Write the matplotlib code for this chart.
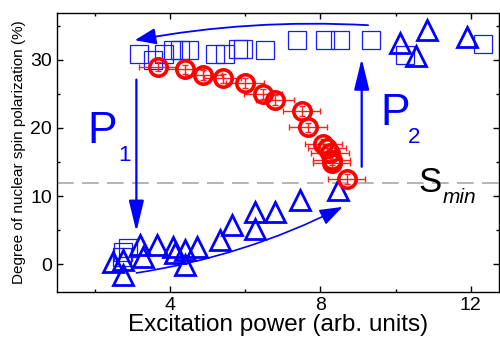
import matplotlib
matplotlib.use("Agg")
import matplotlib.pyplot as plt
from matplotlib.patches import FancyArrowPatch
from matplotlib.ticker import MultipleLocator, FixedLocator

plt.rcParams['font.family'] = ['Liberation Sans', 'DejaVu Sans']

# Red circles (with error bars)
red_x = [3.68, 4.40, 4.89, 5.40, 5.99, 6.48, 6.79, 7.50, 7.68, 8.08, 8.17, 8.26, 8.30, 8.30, 8.70]
red_y = [29.0, 28.6, 27.8, 27.3, 26.6, 25.0, 24.1, 22.5, 20.1, 17.7, 17.0, 16.3, 15.3, 14.8, 12.5]
red_xerr = [0.5] * 15
red_yerr = [0.7] * 15

# Blue open squares
sq_x = [3.17, 3.54, 3.85, 4.08, 4.27, 4.51, 5.20, 5.46, 5.82, 5.95, 6.53, 7.39, 8.12, 8.52, 9.36, 10.25, 12.33,
        2.72, 2.76, 2.88]
sq_y = [30.8, 30.05, 30.8, 31.5, 31.5, 31.5, 30.8, 30.8, 31.6, 31.6, 31.5, 32.9, 32.9, 32.9, 32.9, 30.7, 32.3,
        1.0, 1.8, 2.35]

# Blue open triangles
tri_x = [2.49, 2.76, 2.76, 3.20, 3.29, 3.65, 4.09, 4.13, 4.40, 4.40, 4.71, 5.33, 5.64, 6.26, 6.26, 6.79, 7.46, 8.48,
         10.12, 10.54, 10.84, 11.91]
tri_y = [0.3, 0.6, -1.6, 2.8, 1.1, 2.8, 2.5, 1.6, 2.1, -0.1, 2.5, 3.5, 5.7, 7.7, 5.2, 7.7, 9.4, 10.9,
         32.5, 30.6, 34.4, 33.4]

s_min = 11.9
x_ticks = [4, 8, 12]
y_ticks = [0, 10, 20, 30]

fig = plt.figure(figsize=(5.0, 3.41), dpi=100)
ax = fig.add_axes([0.114, 0.1437, 0.884, 0.8183])
ax.set_xlim(1.0, 12.75)
ax.set_ylim(-4.1, 36.9)

ax.axhline(s_min, color='#a8a8a8', lw=1.2, dashes=(10, 5), zorder=1)

ax.plot(sq_x, sq_y, ls='none', marker='s', ms=13, mfc='none', mec='#1a1aff', mew=0.9, zorder=2)
ax.plot(tri_x, tri_y, ls='none', marker='^', ms=14, mfc='none', mec='blue', mew=2.0, zorder=3)
ax.errorbar(red_x, red_y, xerr=red_xerr, yerr=red_yerr, fmt='none', ecolor='#ff2020', elinewidth=1.0,
            capsize=2.5, capthick=1.0, zorder=4)
ax.plot(red_x, red_y, ls='none', marker='o', ms=12.5, mfc='none', mec='red', mew=2.6, zorder=5)

# Arrows
def arrow(p0, p1, rad, lw, hl, hw):
    a = FancyArrowPatch(p0, p1, connectionstyle=f"arc3,rad={rad}",
                        arrowstyle=f"-|>,head_length={hl},head_width={hw}",
                        mutation_scale=20, color='blue', lw=lw, zorder=6,
                        shrinkA=0, shrinkB=0)
    ax.add_patch(a)

arrow((9.27, 35.1), (3.07, 32.9), 0.06, 1.3, 0.65, 0.25)
arrow((3.11, 27.1), (3.11, 4.75), 0.0, 1.6, 0.95, 0.23)
arrow((3.11, -1.3), (8.59, 8.4), 0.08, 1.2, 0.7, 0.25)
arrow((9.10, 14.3), (9.10, 30.2), 0.0, 1.6, 0.95, 0.23)

# Texts
ax.text(1.82, 17.8, 'P', color='blue', fontsize=32, ha='left', va='baseline')
ax.text(2.62, 15.1, '1', color='blue', fontsize=16, ha='left', va='baseline')
ax.text(9.59, 20.4, 'P', color='blue', fontsize=32, ha='left', va='baseline')
ax.text(10.33, 17.8, '2', color='blue', fontsize=16, ha='left', va='baseline')
ax.text(10.60, 10.6, 'S', color='black', fontsize=25, ha='left', va='baseline')
ax.text(11.26, 9.0, 'min', color='black', fontsize=15, style='italic', ha='left', va='baseline')

ax.set_xticks(x_ticks)
ax.set_yticks(y_ticks)
ax.xaxis.set_minor_locator(FixedLocator([2, 6, 10]))
ax.yaxis.set_minor_locator(MultipleLocator(5))
ax.tick_params(which='both', direction='in', top=True, right=True, width=1.0, labelsize=14)
ax.tick_params(which='major', length=4)
ax.tick_params(which='minor', length=2.5)
for s in ax.spines.values():
    s.set_linewidth(1.0)

ax.set_xlabel('Excitation power (arb. units)', fontsize=17.5, labelpad=0)
ax.set_ylabel('Degree of nuclear spin polarization (%)', fontsize=11, labelpad=3)

fig.savefig('out.png', dpi=100)
